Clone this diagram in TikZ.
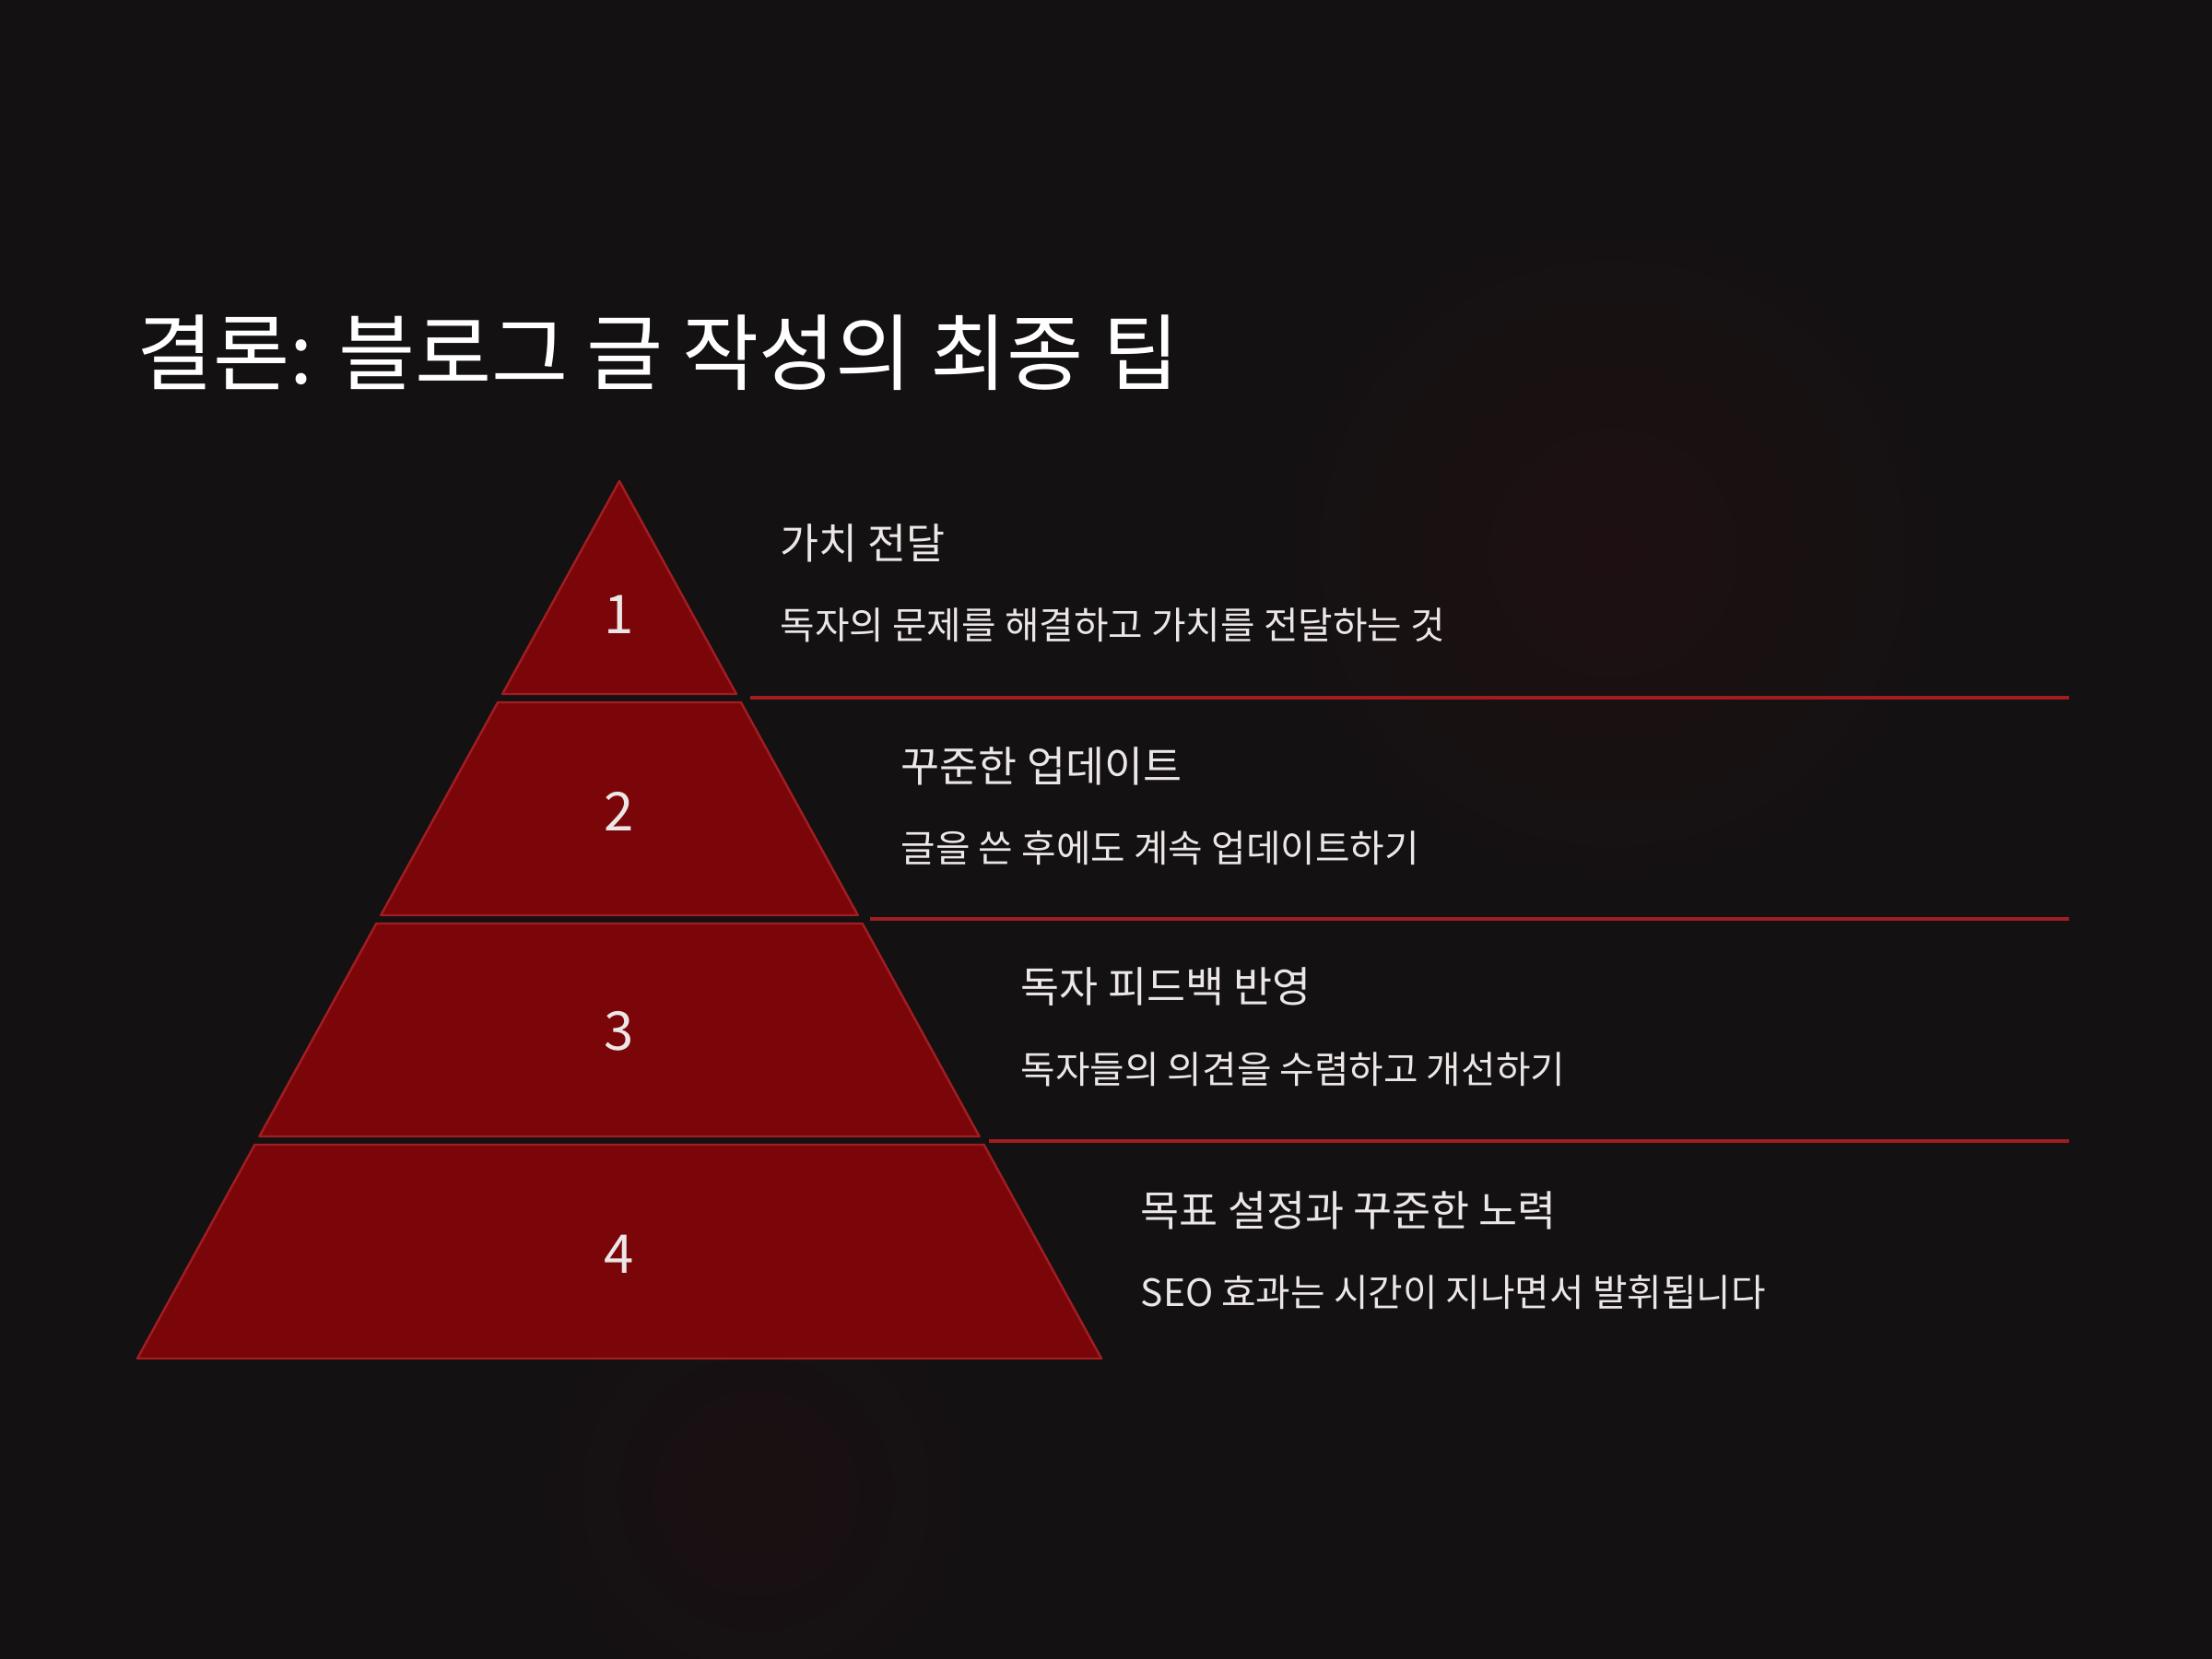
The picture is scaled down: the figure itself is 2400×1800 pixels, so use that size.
\documentclass[tikz,border=0pt]{standalone}
\usepackage{fontspec}
\setmainfont{Noto Sans CJK KR}
\definecolor{bgdark}{HTML}{131112}
\definecolor{glowred}{HTML}{3A1012}
\definecolor{layerfill}{HTML}{7A0609}
\definecolor{layeredge}{HTML}{A11D22}
\definecolor{lighttext}{HTML}{EDE6E6}

\begin{document}
\begin{tikzpicture}[x=0.01cm,y=-0.01cm,
  layer/.style={fill=layerfill,draw=layeredge,line width=0.7pt,line join=round},
  divider/.style={draw=layeredge,line width=0.9pt},
  num/.style={text=lighttext,font=\fontsize{16.5}{19}\selectfont},
  head/.style={anchor=west,text=lighttext,inner sep=0pt,font=\fontsize{13}{16}\selectfont},
  desc/.style={anchor=west,text=lighttext,inner sep=0pt,font=\fontsize{11.6}{14}\selectfont}]
  % background
  \fill[bgdark] (0,0) rectangle (2400,1800);
  \useasboundingbox (0,0) rectangle (2400,1800);
  \shade[inner color=glowred,outer color=bgdark,opacity=0.3] (1750,600) circle (420);
  \shade[inner color=glowred,outer color=bgdark,opacity=0.2] (820,1620) circle (300);

  \node[anchor=west,text=white,inner sep=0pt,font=\fontsize{25.7}{30}\selectfont] (title) at (148,383) {결론: 블로그 글 작성의 최종 팁};

  % pyramid layers
  \draw[layer] (672,522) -- (798.9,753) -- (545.1,753) -- cycle;
  \draw[layer] (540.1,762) -- (803.9,762) -- (930.8,993) -- (413.2,993) -- cycle;
  \draw[layer] (408.3,1002) -- (935.7,1002) -- (1062.6,1233) -- (281.4,1233) -- cycle;
  \draw[layer] (276.4,1242) -- (1067.6,1242) -- (1195,1474) -- (149,1474) -- cycle;

  \node[num] (n1) at (672,667) {1};
  \node[num] (n2) at (672,880) {2};
  \node[num] (n3) at (672,1119) {3};
  \node[num] (n4) at (672,1361) {4};

  % dividers
  \draw[divider] (814,757) -- (2245,757);
  \draw[divider] (944,997) -- (2245,997);
  \draw[divider] (1073,1238) -- (2245,1238);

  \node[head] (h1) at (846,589) {가치 전달};
  \node[desc] (d1) at (846,678) {독자의 문제를 해결하고 가치를 전달하는 것};
  \node[head] (h2) at (977,831) {꾸준한 업데이트};
  \node[desc] (d2) at (977,920) {글을 쓴 후에도 계속 업데이트하기};
  \node[head] (h3) at (1107,1071) {독자 피드백 반영};
  \node[desc] (d3) at (1107,1160) {독자들의 의견을 수렴하고 개선하기};
  \node[head] (h4) at (1237,1313) {목표 설정과 꾸준한 노력};
  \node[desc] (d4) at (1237,1402) {SEO 효과는 시간이 지나면서 발휘됩니다};
\end{tikzpicture}
\end{document}
